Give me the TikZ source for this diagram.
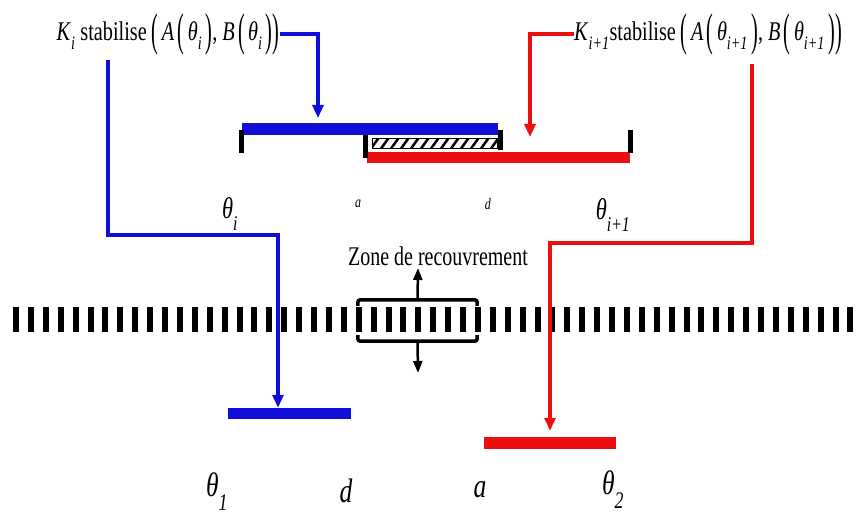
\documentclass[tikz,border=0pt]{standalone}
\usepackage{fontspec}
\setmainfont{Liberation Serif}
\usetikzlibrary{arrows.meta}

\definecolor{bleu}{RGB}{15,15,215}
\definecolor{rouge}{RGB}{235,15,15}
\newcommand\cnd[1]{\scalebox{0.75}[1]{#1}}
\newcommand\idx[1]{\raisebox{-0.2em}{\textsubscript{\textit{#1}}}}
\newcommand\thet[1]{\textit{θ}\idx{#1}}
\newcommand\bp[1]{\raisebox{-0.18em}{\scalebox{1}[1.7]{#1}}}

\begin{document}
\begin{tikzpicture}[x=1pt,y=-1pt,
  bar/.style={rectangle,inner sep=0pt,minimum height=11pt},
  wire/.style={line width=4pt,-{Triangle[width=11pt,length=13pt]}},
  tick/.style={line width=5pt},
  lbl/.style={inner sep=0pt,font=\fontsize{#1}{#1}\selectfont}]
\useasboundingbox (0,0) rectangle (856,516);

% legends du haut
\node [lbl=27] (Ki) at (168,34) {\cnd{\textit{K}\idx{i} stabilise \bp{(}\,\textit{A}\,\bp{(}\,\thet{i}\,\bp{)}, \textit{B}\,\bp{(}\,\thet{i}\,\bp{)}\bp{)}}};
\node [lbl=27] (Kj) at (708,34) {\cnd{\textit{K}\idx{i+1}stabilise \bp{(}\,\textit{A}\,\bp{(}\,\thet{i+1}\,\bp{)}, \textit{B}\,\bp{(}\,\thet{i+1}\,\bp{)}\bp{)}}};

% intervalles du haut
\node [bar,fill=bleu,minimum width=256pt] (topBlue) at (370,129) {};
\node [bar,fill=rouge,minimum width=263pt] (topRed) at (498.5,157) {};
\begin{scope}
  \clip (372,138) rectangle (497,148);
  \foreach \x in {360,370,...,500}
    \draw [line width=2.5pt] (\x,150) -- (\x+10,136);
\end{scope}
\node [draw,thick,rectangle,inner sep=0pt,minimum width=125pt,minimum height=10pt] (overlap) at (434.5,143) {};
\draw [tick] (241,130) -- (241,153);
\draw [tick] (365,135) -- (365,158);
\draw [tick] (500,130) -- (500,150);
\draw [tick] (630,130) -- (630,153);

\node [lbl=30] (thi) at (230,214) {\cnd{\thet{i}}};
\node [lbl=16] (ha) at (358,204) {\cnd{\textit{a}}};
\node [lbl=16] (hd) at (488,204) {\cnd{\textit{d}}};
\node [lbl=30] (thj) at (613,215) {\cnd{\thet{i+1}}};

% zone de recouvrement
\draw [line width=25pt,dash pattern=on 6pt off 8.9pt] (13,319) -- (856,319);
\node [lbl=27] (zone) at (438,256) {\scalebox{0.74}[1]{Zone de recouvrement}};
\node [rectangle,inner sep=0pt,minimum width=119pt,minimum height=41pt] (zoneBox) at (417.5,320.5) {};
\draw [line width=3.5pt,rounded corners=2.5pt] ([yshift=-6pt]zoneBox.north west) -- (zoneBox.north west) -- (zoneBox.north east) -- ([yshift=-6pt]zoneBox.north east);
\draw [line width=3.5pt,rounded corners=2.5pt] ([yshift=6pt]zoneBox.south west) -- (zoneBox.south west) -- (zoneBox.south east) -- ([yshift=6pt]zoneBox.south east);
\draw [line width=2.5pt,-{Triangle[width=9pt,length=12pt]}] (zoneBox.north) -- (418,268);
\draw [line width=2.5pt,-{Triangle[width=9pt,length=12pt]}] (zoneBox.south) -- (418,373);

% intervalles du bas
\node [bar,fill=bleu,minimum width=123pt] (lowBlue) at (289.5,413.5) {};
\node [bar,fill=rouge,minimum width=132pt,minimum height=12pt] (lowRed) at (550,443) {};
\node [lbl=34] (th1) at (217,492) {\cnd{\thet{1}}};
\node [lbl=34] (bd) at (346,491) {\cnd{\textit{d}}};
\node [lbl=34] (ba) at (480,490) {\cnd{\textit{a}}};
\node [lbl=34] (th2) at (613,490) {\cnd{\thet{2}}};

% fleches
\coordinate (bTip) at (318,118);
\coordinate (bStart) at (108,60);
\coordinate (bJog) at (278,235);
\coordinate (rTip) at (530,137);
\coordinate (rStart) at (752,64);
\coordinate (rJog) at (550,243);
\draw [wire,bleu] (Ki.east) -| (bTip);
\draw [wire,bleu] (bStart) |- (bJog) -- (lowBlue.north -| bJog);
\draw [wire,rouge] (Kj.west) -| (rTip);
\draw [wire,rouge,shorten >=6pt] (rStart) |- (rJog) -- (lowRed.north -| rJog);
\end{tikzpicture}
\end{document}
